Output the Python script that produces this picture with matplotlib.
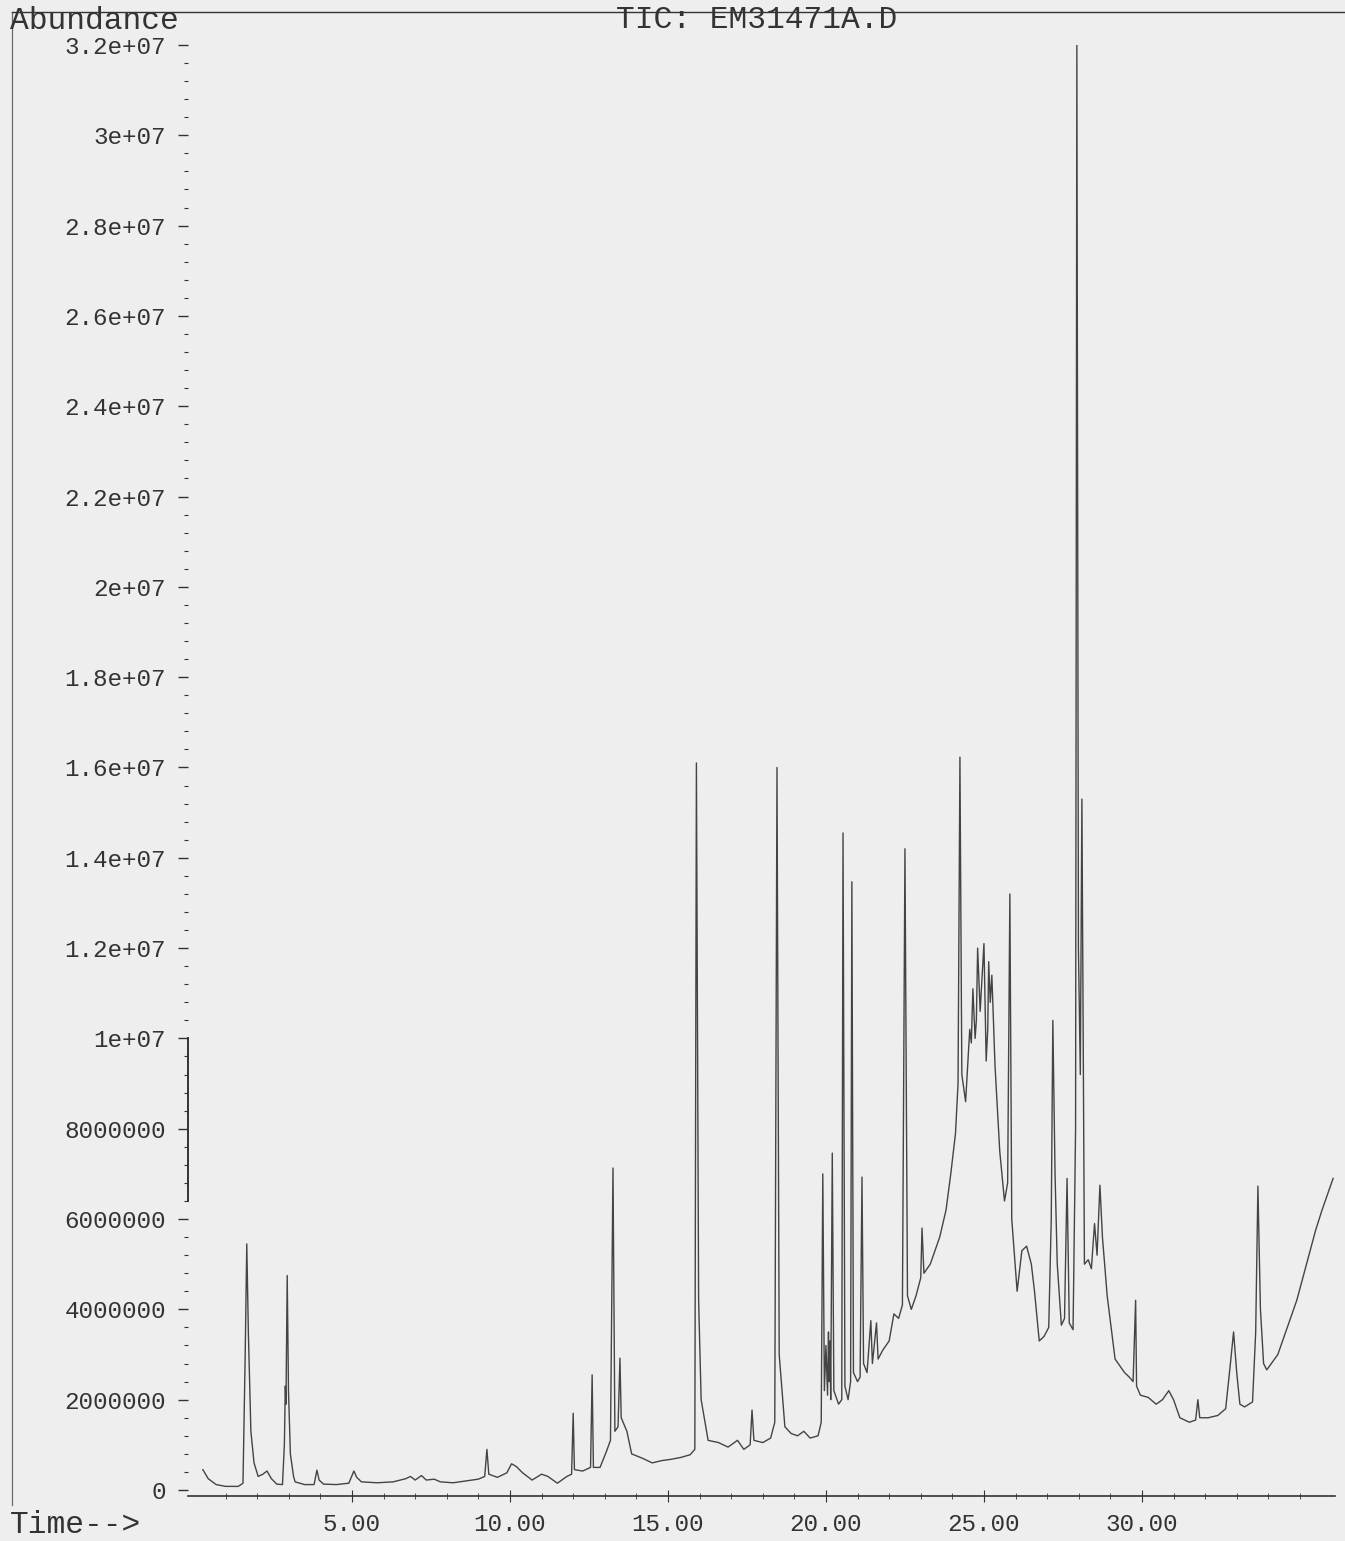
import numpy as np
import matplotlib
matplotlib.use("Agg")
from matplotlib import pyplot as plt
from matplotlib.lines import Line2D

# retention time (min) and abundance (millions of counts) of the TIC trace
time_min = [
    0.28, 0.45, 0.70, 1.00, 1.40, 1.55, 1.62, 1.67, 1.72, 1.80, 1.90, 2.03, 2.18, 2.31, 2.45,
    2.62, 2.80, 2.86, 2.89, 2.91, 2.95, 2.99, 3.05, 3.15, 3.20, 3.50, 3.80, 3.89, 3.96, 4.10,
    4.50, 4.90, 5.06, 5.15, 5.30, 5.80, 6.30, 6.70, 6.85, 7.00, 7.20, 7.35, 7.60, 7.80, 8.20,
    8.60, 9.00, 9.20, 9.27, 9.33, 9.60, 9.90, 10.05, 10.20, 10.40, 10.70, 11.00, 11.20, 11.50,
    11.80, 11.95, 12.00, 12.04, 12.30, 12.55, 12.60, 12.64, 12.85, 13.05, 13.18, 13.26, 13.32,
    13.42, 13.48, 13.52, 13.70, 13.85, 14.20, 14.50, 14.80, 15.10, 15.40, 15.70, 15.85, 15.90,
    15.97, 16.05, 16.27, 16.60, 16.90, 17.20, 17.40, 17.60, 17.66, 17.72, 18.00, 18.25, 18.38,
    18.45, 18.52, 18.70, 18.90, 19.10, 19.30, 19.50, 19.75, 19.85, 19.90, 19.95, 20.00, 20.05,
    20.08, 20.10, 20.13, 20.15, 20.20, 20.25, 20.40, 20.50, 20.54, 20.60, 20.70, 20.78, 20.82,
    20.87, 21.00, 21.08, 21.14, 21.19, 21.30, 21.42, 21.47, 21.60, 21.65, 21.80, 22.00, 22.15,
    22.30, 22.42, 22.50, 22.58, 22.70, 22.85, 23.00, 23.04, 23.10, 23.30, 23.60, 23.80, 23.95,
    24.10, 24.18, 24.24, 24.30, 24.42, 24.50, 24.55, 24.60, 24.65, 24.72, 24.76, 24.80, 24.88,
    24.95, 25.00, 25.07, 25.12, 25.15, 25.20, 25.25, 25.35, 25.50, 25.65, 25.75, 25.82, 25.88,
    26.05, 26.20, 26.35, 26.50, 26.60, 26.75, 26.90, 27.05, 27.13, 27.18, 27.25, 27.32, 27.45,
    27.55, 27.63, 27.70, 27.82, 27.90, 27.94, 27.99, 28.05, 28.10, 28.18, 28.30, 28.40, 28.50,
    28.58, 28.67, 28.75, 28.90, 29.15, 29.30, 29.45, 29.60, 29.72, 29.80, 29.83, 29.95, 30.20,
    30.45, 30.65, 30.85, 31.00, 31.20, 31.50, 31.70, 31.77, 31.83, 32.10, 32.40, 32.65, 32.80,
    32.90, 33.00, 33.10, 33.25, 33.50, 33.60, 33.67, 33.75, 33.85, 33.95, 34.30, 34.90, 35.50,
    35.70, 36.05,
]
abundance_m = [
    0.45, 0.25, 0.12, 0.08, 0.08, 0.15, 3.00, 5.45, 3.50, 1.30, 0.60, 0.30, 0.35, 0.42, 0.25,
    0.13, 0.12, 1.00, 2.30, 1.90, 4.75, 2.20, 0.80, 0.30, 0.18, 0.12, 0.12, 0.44, 0.22, 0.13,
    0.12, 0.15, 0.42, 0.28, 0.18, 0.16, 0.18, 0.25, 0.30, 0.22, 0.32, 0.22, 0.24, 0.18, 0.16,
    0.20, 0.24, 0.30, 0.90, 0.35, 0.28, 0.38, 0.58, 0.52, 0.38, 0.22, 0.35, 0.30, 0.15,
    0.30, 0.35, 1.70, 0.45, 0.42, 0.50, 2.55, 0.50, 0.50, 0.85, 1.10, 7.13, 1.30,
    1.40, 2.92, 1.60, 1.30, 0.80, 0.70, 0.60, 0.65, 0.68, 0.72, 0.78, 0.90, 16.10,
    4.20, 2.00, 1.10, 1.05, 0.95, 1.10, 0.90, 1.00, 1.77, 1.10, 1.05, 1.15, 1.50,
    16.00, 3.00, 1.40, 1.25, 1.20, 1.30, 1.15, 1.20, 1.50, 7.00, 2.20, 3.20, 2.10,
    3.50, 2.40, 3.30, 2.00, 7.46, 2.20, 1.90, 2.00, 14.55, 2.30, 2.00, 2.40, 13.47,
    2.60, 2.40, 2.50, 6.93, 2.80, 2.60, 3.75, 2.80, 3.70, 2.90, 3.10, 3.30, 3.90,
    3.80, 4.10, 14.20, 4.30, 4.00, 4.30, 4.70, 5.80, 4.80, 5.00, 5.60, 6.20, 7.00,
    7.90, 9.00, 16.23, 9.20, 8.60, 9.60, 10.20, 9.90, 11.10, 10.00, 10.40, 12.00, 10.60,
    11.50, 12.10, 9.50, 10.20, 11.70, 10.80, 11.40, 9.40, 7.50, 6.40, 6.80, 13.20, 6.00,
    4.40, 5.30, 5.40, 5.00, 4.40, 3.30, 3.40, 3.60, 6.00, 10.40, 7.00, 5.00, 3.65,
    3.80, 6.90, 3.70, 3.55, 8.00, 32.00, 12.00, 9.20, 15.30, 5.00, 5.10, 4.90, 5.90,
    5.20, 6.75, 5.60, 4.30, 2.90, 2.75, 2.60, 2.50, 2.40, 4.20, 2.30, 2.10, 2.05,
    1.90, 2.00, 2.20, 2.00, 1.60, 1.50, 1.55, 2.00, 1.60, 1.60, 1.65, 1.80, 2.80,
    3.50, 2.60, 1.90, 1.84, 1.95, 3.50, 6.73, 4.00, 2.80, 2.66, 3.00, 4.20, 5.76,
    6.20, 6.90,
]

y_ticks = [0, 2e6, 4e6, 6e6, 8e6, 1e7, 1.2e7, 1.4e7, 1.6e7, 1.8e7, 2e7, 2.2e7, 2.4e7,
           2.6e7, 2.8e7, 3e7, 3.2e7]
y_labels = ["0", "2000000", "4000000", "6000000", "8000000", "1e+07", "1.2e+07",
            "1.4e+07", "1.6e+07", "1.8e+07", "2e+07", "2.2e+07", "2.4e+07", "2.6e+07",
            "2.8e+07", "3e+07", "3.2e+07"]
x_ticks = [5, 10, 15, 20, 25, 30]
x_labels = ["5.00", "10.00", "15.00", "20.00", "25.00", "30.00"]

ink = "#333333"
paper = "#eeeeee"
plt.rcParams["font.family"] = ["Liberation Mono", "DejaVu Sans Mono"]
plt.rcParams["font.size"] = 17.5

W, H = 1345, 1541
fig = plt.figure(figsize=(W / 100, H / 100), dpi=100, facecolor=paper)
ax = fig.add_axes([188 / W, (H - 1496) / H, (1335 - 188) / W, (1496 - 45) / H])
ax.set_facecolor(paper)

t = np.array(time_min)
a = np.array(abundance_m) * 1e6
ax.plot(t, a, color="#444444", linewidth=1.0)

ax.set_xlim(-0.19, 36.11)
ax.set_ylim(-0.133e6, 3.2e7)

for side in ("top", "right"):
    ax.spines[side].set_visible(False)
ax.spines["bottom"].set_color(ink)
ax.spines["bottom"].set_linewidth(1.2)
ax.spines["left"].set_color(ink)
ax.spines["left"].set_linewidth(1.4)
ax.spines["left"].set_bounds(6.4e6, 1.0e7)

ax.set_yticks(y_ticks)
ax.set_yticklabels(y_labels)
ax.set_yticks(np.arange(0, 3.2e7 + 1, 4e5), minor=True)
ax.set_xticks(x_ticks)
ax.set_xticklabels(x_labels)
ax.set_xticks(np.arange(1, 36), minor=True)

ax.tick_params(axis="y", which="major", length=7, width=1.0, color=ink,
               labelcolor=ink, pad=9)
ax.tick_params(axis="y", which="minor", length=3, width=0.8, color=ink)
ax.tick_params(axis="x", which="major", direction="inout", length=8, width=0.8,
               color=ink, labelcolor=ink, pad=8)
ax.tick_params(axis="x", which="minor", direction="inout", length=4, width=0.6,
               color=ink)

# page frame and header text of the printout
fig.add_artist(Line2D([12 / W, 1], [1 - 12 / H, 1 - 12 / H], color=ink, linewidth=1.0,
                      transform=fig.transFigure))
fig.add_artist(Line2D([12 / W, 12 / W], [1 - 12 / H, 1 - 1505 / H], color=ink,
                      linewidth=0.9, alpha=0.7, transform=fig.transFigure))
fig.text(757 / W, 1 - 20 / H, "TIC: EM31471A.D", ha="center", va="center",
         color=ink, fontsize=22.5)
fig.text(10 / W, 1 - 21 / H, "Abundance", ha="left", va="center", color=ink,
         fontsize=22.5)
fig.text(10 / W, 1 - 1525 / H, "Time-->", ha="left", va="center", color=ink,
         fontsize=22.5)

fig.savefig("out.png", dpi=100, facecolor=paper)
